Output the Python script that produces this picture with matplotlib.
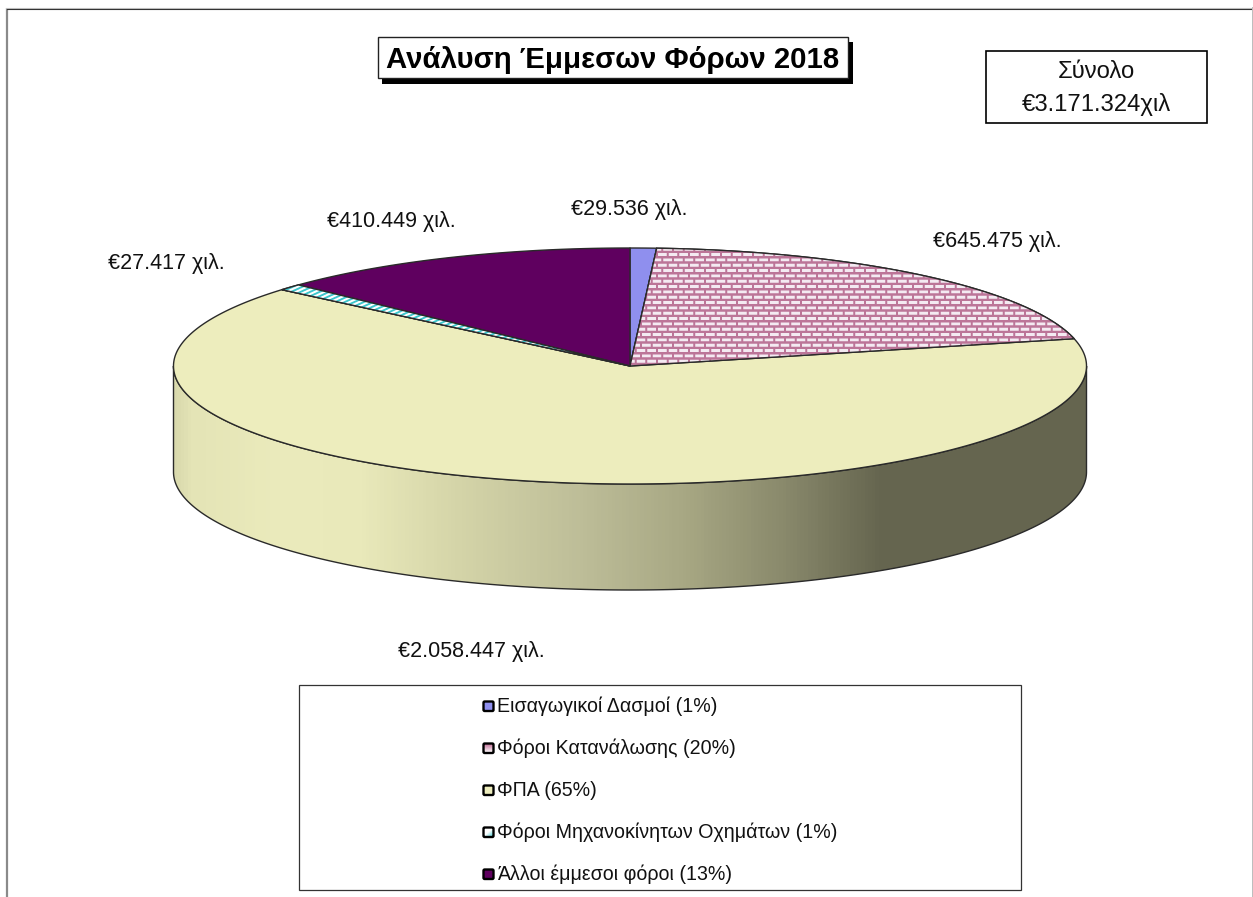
import numpy as np
import matplotlib
matplotlib.use("Agg")
import matplotlib.pyplot as plt
from matplotlib.patches import Polygon, Rectangle, FancyBboxPatch
from matplotlib.colors import LinearSegmentedColormap

plt.rcParams['font.family'] = ['Liberation Sans', 'DejaVu Sans']

# ---- data
categories = ["Εισαγωγικοί Δασμοί (1%)", "Φόροι Κατανάλωσης (20%)", "ΦΠΑ (65%)",
              "Φόροι Μηχανοκίνητων Οχημάτων (1%)", "Άλλοι έμμεσοι φόροι (13%)"]
values = [29536, 645475, 2058447, 27417, 410449]
value_labels = ["€29.536 χιλ.", "€645.475 χιλ.", "€2.058.447 χιλ.", "€27.417 χιλ.", "€410.449 χιλ."]
title = "Ανάλυση Έμμεσων Φόρων 2018"
total_lines = "Σύνολο\n€3.171.324χιλ"

# ---- style / layout (pixel space)
W, H = 1253, 897
CX, CY, RX, RY, DEPTH = 630, 366, 456.5, 118, 106
colors = ["#8F8FEE", "#EAD5DF", "#EDEDBD", "#FFFFFF", "#5F005F"]
label_pos = [(629, 210), (997, 242), (471, 651), (166, 264), (391, 221)]
EDGE = "#2A2A2A"

fig = plt.figure(figsize=(W / 100, H / 100), dpi=100, facecolor="white")
ax = fig.add_axes([0, 0, 1, 1])
ax.set_xlim(0, W)
ax.set_ylim(H, 0)
ax.axis("off")


def ell(t, dy=0):
    return CX + RX * np.sin(t), CY + dy - RY * np.cos(t)


# outer frame
ax.plot([7, 7], [H + 2, 8.5], color="#8A8A8A", lw=1.6, solid_capstyle="butt")
ax.plot([6, 1253], [8, 8], color="#C4C4C4", lw=0.8)
ax.plot([7, 1253], [9, 9], color="#333333", lw=0.8)
ax.plot([1252.5, 1252.5], [8, H], color="#BDBDBD", lw=1.4)

# side wall with gradient
t_side = np.linspace(np.pi / 2, 3 * np.pi / 2, 400)
xt, yt = ell(t_side)
xb, yb = ell(t_side[::-1], DEPTH)
side_xy = np.c_[np.r_[xt, xb], np.r_[yt, yb]]
stops_x = np.array([173, 190, 280, 360, 460, 583, 683, 783, 883, 1086])
stops_c = ["#D9D9AD", "#E4E4B6", "#EBEBBC", "#E9E9BA", "#D4D4A8", "#BDBD98", "#A8A884",
           "#8A8A6C", "#65654F", "#65654F"]
cmap = LinearSegmentedColormap.from_list("side", list(zip((stops_x - 173) / (1086 - 173), stops_c)))
grad = ax.imshow(np.linspace(0, 1, 913)[None, :], cmap=cmap, extent=(173, 1086, CY + DEPTH + RY + 2, CY - 5),
                 aspect="auto", zorder=1, vmin=0, vmax=1)
side = Polygon(side_xy, closed=True, facecolor="none", edgecolor=EDGE, lw=1.0, zorder=1.5)
ax.add_patch(side)
grad.set_clip_path(side)
ax.set_xlim(0, W)
ax.set_ylim(H, 0)


def texture(kind):
    ss = 4
    xs = (np.arange(W * ss) + .5) / ss
    ys = (np.arange(H * ss) + .5) / ss
    X, Y = np.meshgrid(xs, ys)
    if kind == "brick":
        rp = 16 / 3
        row = np.floor(Y / rp)
        hl = (Y % rp) < 2.4
        vl = ((X + (row % 2) * rp) % (2 * rp)) < 2.0
        m = hl | vl
        bg, fg = np.array([0.96, 0.92, 0.95]), np.array([0.74, 0.46, 0.60])
    else:
        m = ((X + 2.2 * Y) % 9.5) < 4.6
        bg, fg = np.array([1.0, 1.0, 1.0]), np.array([0.24, 0.78, 0.80])
    img = bg + m[..., None] * (fg - bg)
    return img.reshape(H, ss, W, ss, 3).mean(axis=(1, 3))


# top wedges, from the values
edges = np.r_[0, np.cumsum(values)] / np.sum(values) * 2 * np.pi
for i, (a, b) in enumerate(zip(edges[:-1], edges[1:])):
    t = np.linspace(a, b, max(3, int((b - a) * 150)))
    x, y = ell(t)
    poly = Polygon(np.c_[np.r_[CX, x], np.r_[CY, y]], closed=True, facecolor=colors[i],
                   edgecolor=EDGE, lw=1.0, zorder=3, joinstyle="round")
    ax.add_patch(poly)
    if i in (1, 3):
        im = ax.imshow(texture("brick" if i == 1 else "stripe"), extent=(0, W, H, 0), aspect="auto",
                       zorder=3.1, interpolation="nearest")
        clip = Polygon(poly.get_xy(), closed=True, transform=ax.transData)
        im.set_clip_path(clip)
        ax.add_patch(Polygon(poly.get_xy(), closed=True, facecolor="none", edgecolor=EDGE, lw=1.0, zorder=3.2))
ax.set_xlim(0, W)
ax.set_ylim(H, 0)

# value labels
for s, (x, y) in zip(value_labels, label_pos):
    ax.text(x, y, s, ha="center", va="center", fontsize=15.5, color="#111111", zorder=5)

# title with shadow box
ax.add_patch(Rectangle((382, 42), 471, 42, facecolor="black", edgecolor="black", lw=0, zorder=4))
ax.add_patch(Rectangle((377.5, 37.5), 470, 41, facecolor="white", edgecolor="#222222", lw=1.0, zorder=4.1))
ax.text(612.5, 59.5, title, ha="center", va="center", fontsize=21.2, fontweight="bold", color="black", zorder=5)

# total box
ax.add_patch(Rectangle((985.5, 51.5), 221, 72, facecolor="white", edgecolor="black", lw=1.2, zorder=4))
ax.text(1096, 72, total_lines.split("\n")[0], ha="center", va="center", fontsize=17.2, color="#111111", zorder=5)
ax.text(1096, 105, total_lines.split("\n")[1], ha="center", va="center", fontsize=17.2, color="#111111", zorder=5)

# legend
ax.add_patch(Rectangle((298.5, 685.5), 722, 205, facecolor="white", edgecolor="#333333", lw=0.9, zorder=4))
ROWS = [706, 748, 790, 832, 874]
for i, (lab, y) in enumerate(zip(categories, ROWS)):
    if i == 1:
        ax.imshow(np.linspace(0, 1, 10)[:, None], extent=(483, 494, y + 5, y - 5), aspect="auto", zorder=4.5,
                  cmap=LinearSegmentedColormap.from_list("k", ["#C06A94", "#FFFFFF"]))
    elif i == 3:
        g = np.linspace(0, 1, 10)[:, None] + np.linspace(0, 1, 10)[None, :]
        ax.imshow(g, extent=(483, 494, y + 5, y - 5), aspect="auto", zorder=4.5,
                  cmap=LinearSegmentedColormap.from_list("k", ["#FFFFFF", "#FFFFFF", "#3CC7CC"]))
    ax.add_patch(FancyBboxPatch((483.5, y - 4.5), 10, 9.5, boxstyle="round,pad=0,rounding_size=1.2",
                                facecolor=colors[i] if i not in (1, 3) else "none",
                                edgecolor="black", lw=1.7, zorder=4.6))
    ax.text(497, y + 0.5, lab, ha="left", va="center", fontsize=14.15, color="#111111", zorder=5)
ax.set_xlim(0, W)
ax.set_ylim(H, 0)

fig.savefig("out.png", dpi=100, facecolor="white")
